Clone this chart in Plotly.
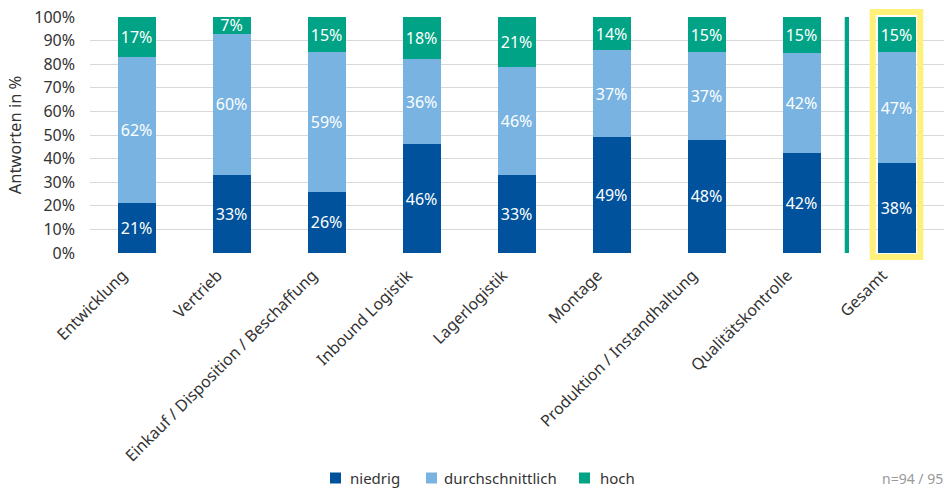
import plotly.graph_objects as go

categories = ["Entwicklung", "Vertrieb", "Einkauf / Disposition / Beschaffung", "Inbound Logistik",
              "Lagerlogistik", "Montage", "Produktion / Instandhaltung", "Qualitätskontrolle", "Gesamt"]
positions = [0, 1, 2, 3, 4, 5, 6, 7, 8]
niedrig = [21, 33, 26, 46, 33, 49, 48, 42.4, 38]
durchschnittlich = [62, 60, 59, 36, 46, 37, 37, 42.4, 47]
hoch = [17, 7, 15, 18, 21, 14, 15, 15.2, 15]
y_ticks = [0, 10, 20, 30, 40, 50, 60, 70, 80, 90, 100]
sample_note = "n=94 / 95"

FONT = "Noto Sans"
TXT = "#333333"
series = [("niedrig", niedrig, "#00529C"),
          ("durchschnittlich", durchschnittlich, "#78B3E1"),
          ("hoch", hoch, "#00A385")]

W, H = 944, 488
ML, MR, MT, MB = 90, 0, 17, 235
PW, PH = W - ML - MR, H - MT - MB


def px_x(px):
    return (px - ML) / PW


def px_y(py):
    return (H - MB - py) / PH


fig = go.Figure()
for name, vals, col in series:
    fig.add_trace(go.Bar(
        x=positions, y=vals, name=name, marker_color=col, marker_line_width=0,
        width=0.4, text=[f"{round(v)}%" for v in vals], textposition="inside",
        insidetextanchor="middle", textangle=0, showlegend=False,
        textfont=dict(color="white", size=16, family=FONT),
    ))

# separator before "Gesamt"
fig.add_shape(type="rect", xref="x", yref="y", x0=7.455, x1=7.50, y0=0, y1=100,
              fillcolor="#00A385", line_width=0, layer="above")
# highlight around "Gesamt"
fig.add_shape(type="rect", xref="x", yref="paper", x0=7.75, x1=8.25, y0=px_y(257), y1=px_y(12),
              line=dict(color="#FFF07A", width=6), fillcolor="rgba(0,0,0,0)", layer="above")

# manual legend
legend_sq_px = [330, 426, 579]
legend_txt_px = [348, 442, 598]
leg_y = px_y(478)
for (name, _, col), sx, tx in zip(series, legend_sq_px, legend_txt_px):
    fig.add_shape(type="rect", xref="paper", yref="paper", xsizemode="pixel", ysizemode="pixel",
                  xanchor=px_x(sx), yanchor=leg_y, x0=0, x1=11, y0=-5.5, y1=5.5,
                  fillcolor=col, line_width=0)
    fig.add_annotation(text=name, xref="paper", yref="paper", x=px_x(tx), xanchor="left",
                       y=leg_y, yanchor="middle", showarrow=False,
                       font=dict(size=15, color=TXT, family=FONT))

fig.add_annotation(text=sample_note, xref="paper", yref="paper", x=px_x(880), xanchor="left",
                   y=leg_y, yanchor="middle", showarrow=False,
                   font=dict(size=14, color="#9A9A9A", family=FONT))

fig.update_layout(
    barmode="stack", width=W, height=H,
    margin=dict(l=ML, r=MR, t=MT, b=MB, autoexpand=False),
    plot_bgcolor="white", paper_bgcolor="white",
    font=dict(family=FONT, size=16, color=TXT),
    showlegend=False,
    uniformtext=dict(minsize=8, mode="show"),
)
fig.update_xaxes(range=[-0.49, 8.5], tickvals=positions, ticktext=categories, tickangle=-45,
                 showgrid=False, zeroline=False, showline=False, ticks="", automargin=False,
                 ticklabelshift=-14, ticklabelstandoff=9,
                 tickfont=dict(size=16, color=TXT))
fig.update_yaxes(range=[0, 100], tickvals=y_ticks, ticktext=[f"{v}%" for v in y_ticks],
                 showgrid=True, gridcolor="#D9D9D9", gridwidth=1, zeroline=False,
                 showline=False, ticks="", automargin=False, tickfont=dict(size=16, color=TXT),
                 ticklabelstandoff=14,
                 title=dict(text="Antworten in %", font=dict(size=16.5, color=TXT), standoff=8))

fig.write_html("out.html", post_script="document.body.style.margin='0';",
               config={"displayModeBar": False})
